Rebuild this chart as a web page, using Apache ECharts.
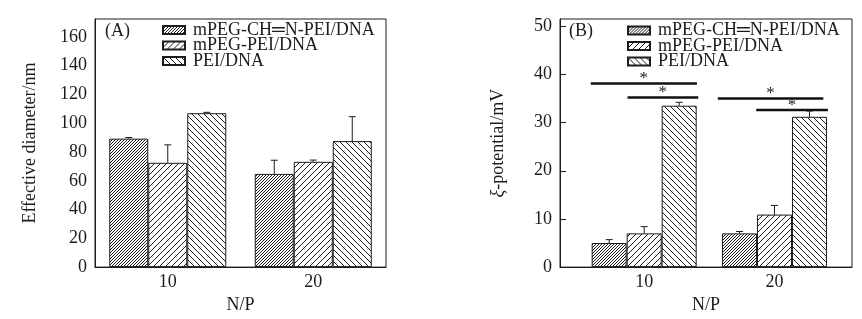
<!DOCTYPE html>
<html><head><meta charset="utf-8">
<script src="https://cdn.jsdelivr.net/npm/echarts@6/dist/echarts.min.js"></script>
<style>html,body{margin:0;padding:0;background:#fff}#c{width:862px;height:319px}</style>
</head><body><div id="c"></div>
<script>
// ---- data ----
const categories = ['10', '20'];
const npValues = [10, 20];
const seriesNames = ['mPEG-CH═N-PEI/DNA', 'mPEG-PEI/DNA', 'PEI/DNA'];
// Panel A: effective diameter (nm)
const diamCH = [89.3, 64.8];
const diamCHErr = [0.8, 9.5];
const diamPEG = [72.5, 73.2];
const diamPEGErr = [12.5, 1.2];
const diamPEI = [107.0, 87.6];
const diamPEIErr = [0.6, 17.0];
// Panel B: zeta potential (mV)
const zetaCH = [5.0, 7.0];
const zetaCHErr = [0.7, 0.4];
const zetaPEG = [7.0, 10.9];
const zetaPEGErr = [1.4, 1.9];
const zetaPEI = [33.5, 31.2];
const zetaPEIErr = [0.7, 1.2];
// significance brackets (panel B)
const sigX1 = [5.9, 8.72, 15.65, 18.6];
const sigX2 = [14.05, 14.15, 23.75, 24.1];
const sigY = [38.1, 35.2, 35.0, 32.6];
const sigLabel = ['*', '*', '*', '*'];
// tick labels
const yTicksA = [0, 20, 40, 60, 80, 100, 120, 140, 160];
const yTicksB = [0, 10, 20, 30, 40, 50];

// ---- styles ----
const FONT = 'Liberation Serif';
const INK = '#1c1c1c';
const BW_A = 39, BW_B = 35;

function hatch(step, dir) {
  const c = document.createElement('canvas');
  c.width = step; c.height = step;
  const g = c.getContext('2d');
  g.fillStyle = '#fff'; g.fillRect(0, 0, step, step);
  g.strokeStyle = INK; g.lineWidth = 1;
  g.beginPath();
  for (let k = -1; k <= 1; k++) {
    if (dir === '/') { g.moveTo(k * step, step); g.lineTo(k * step + step, 0); }
    else { g.moveTo(k * step, 0); g.lineTo(k * step + step, step); }
  }
  g.stroke();
  return { image: c, repeat: 'repeat' };
}
const patterns = [hatch(3, '/'), hatch(6, '/'), hatch(6, '\\')];

const dataA = [diamCH, diamPEG, diamPEI];
const errA = [diamCHErr, diamPEGErr, diamPEIErr];
const dataB = [zetaCH, zetaPEG, zetaPEI];
const errB = [zetaCHErr, zetaPEGErr, zetaPEIErr];

const axisTxt = { fontFamily: FONT, fontSize: 18, color: INK };

function errRender(bw) {
  return function (params, api) {
    const p = api.coord([api.value(0), api.value(1)]);
    const t = api.coord([api.value(0), api.value(1) + api.value(2)]);
    const x = p[0] + (api.value(3) - 1) * bw;
    const st = { stroke: INK, lineWidth: 1 };
    return { type: 'group', children: [
      { type: 'line', shape: { x1: x, y1: p[1], x2: x, y2: t[1] }, style: st },
      { type: 'line', shape: { x1: x - 3.5, y1: t[1], x2: x + 3.5, y2: t[1] }, style: st }
    ]};
  };
}

const series = [];
seriesNames.forEach((n, i) => {
  series.push({ type: 'bar', name: n, xAxisIndex: 0, yAxisIndex: 0, barWidth: BW_A, barGap: '0%',
    data: dataA[i], itemStyle: { color: patterns[i], borderColor: INK, borderWidth: 1 }, animation: false });
});
seriesNames.forEach((n, i) => {
  series.push({ type: 'bar', name: n, xAxisIndex: 1, yAxisIndex: 1, barWidth: BW_B, barGap: '0%',
    data: npValues.map((x, j) => [x, dataB[i][j]]), itemStyle: { color: patterns[i], borderColor: INK, borderWidth: 1 }, animation: false });
});
const errDataA = [], errDataB = [];
for (let i = 0; i < 3; i++) for (let j = 0; j < 2; j++) {
  errDataA.push([j, dataA[i][j], errA[i][j], i]);
  errDataB.push([npValues[j], dataB[i][j], errB[i][j], i]);
}
series.push({ type: 'custom', name: 'errA', xAxisIndex: 0, yAxisIndex: 0, data: errDataA, renderItem: errRender(BW_A), z: 5, animation: false, encode: { x: 0, y: 1 } });
series.push({ type: 'custom', name: 'errB', xAxisIndex: 1, yAxisIndex: 1, data: errDataB, renderItem: errRender(BW_B), z: 5, animation: false, encode: { x: 0, y: 1 } });
series.push({ type: 'custom', name: 'sig', xAxisIndex: 1, yAxisIndex: 1, z: 6, animation: false,
  data: sigY.map((y, k) => [sigX1[k], sigX2[k], y]),
  encode: { x: [0, 1], y: 2 },
  renderItem: function (params, api) {
    const a = api.coord([api.value(0), api.value(2)]);
    const b = api.coord([api.value(1), api.value(2)]);
    return { type: 'group', children: [
      { type: 'line', shape: { x1: a[0], y1: a[1], x2: b[0], y2: b[1] }, style: { stroke: '#111', lineWidth: 2.5 } },
      { type: 'text', x: (a[0] + b[0]) / 2, y: a[1] - 5, style: { text: sigLabel[params.dataIndex], fontFamily: FONT, fontSize: 17, fill: INK, align: 'center', verticalAlign: 'middle' } }
    ]};
  }
});

const legendRowsA = [30, 45.5, 61];
const legendRowsB = [30.5, 46, 61.5];
function legends(left, rows) {
  return seriesNames.map((n, i) => ({
    data: [n], left: left, top: rows[i] - 9, orient: 'vertical', icon: 'rect', itemWidth: 22, itemHeight: 8,
    selectedMode: false, padding: 0,
    textStyle: { fontFamily: FONT, fontSize: 18, color: INK, lineHeight: 18, padding: [0, 0, 0, 3] }
  }));
}

const yBase = {
  type: 'value', min: 0, nameLocation: 'middle', nameTextStyle: axisTxt,
  axisLine: { show: true, lineStyle: { color: INK, width: 1 } },
  splitLine: { show: false }
};

const option = {
  backgroundColor: '#fff',
  animation: false,
  grid: [
    { left: 95, top: 19, width: 291, height: 253, show: true, borderColor: INK, borderWidth: 1, backgroundColor: 'transparent' },
    { left: 560, top: 19, width: 292, height: 253, show: true, borderColor: INK, borderWidth: 1, backgroundColor: 'transparent' }
  ],
  legend: legends(162, legendRowsA).concat(legends(627, legendRowsB)),
  xAxis: [
    { gridIndex: 0, type: 'category', data: categories, axisTick: { show: false },
      axisLine: { lineStyle: { color: INK } }, axisLabel: Object.assign({ margin: 6 }, axisTxt),
      name: 'N/P', nameLocation: 'middle', nameGap: 28, nameTextStyle: axisTxt },
    { gridIndex: 1, type: 'value', min: 3.54, max: 25.95, axisTick: { show: false }, splitLine: { show: false },
      axisLine: { lineStyle: { color: INK } }, axisLabel: Object.assign({ margin: 6, customValues: npValues }, axisTxt),
      name: 'N/P', nameLocation: 'middle', nameGap: 28, nameTextStyle: axisTxt }
  ],
  yAxis: [
    Object.assign({}, yBase, { gridIndex: 0, max: 172.5, name: 'Effective diameter/nm', nameGap: 56,
      axisTick: { inside: true, length: 6, customValues: yTicksA, lineStyle: { color: INK } },
      axisLabel: Object.assign({ margin: 8, customValues: yTicksA }, axisTxt) }),
    Object.assign({}, yBase, { gridIndex: 1, max: 51.5, name: '{i|ξ}-potential/mV', nameGap: 53,
      nameTextStyle: Object.assign({ rich: { i: { fontFamily: FONT, fontSize: 18, fontStyle: 'italic', color: INK } } }, axisTxt),
      axisTick: { inside: true, length: 6, customValues: yTicksB, lineStyle: { color: INK } },
      axisLabel: Object.assign({ margin: 8, customValues: yTicksB }, axisTxt) })
  ],
  graphic: [
    { type: 'text', left: 105, top: 22, style: { text: '(A)', fontFamily: FONT, fontSize: 18, fill: INK } },
    { type: 'text', left: 569, top: 22, style: { text: '(B)', fontFamily: FONT, fontSize: 18, fill: INK } }
  ],
  series: series
};
const chart = echarts.init(document.getElementById('c'), null, { renderer: 'canvas' });
chart.setOption(option);
</script></body></html>
